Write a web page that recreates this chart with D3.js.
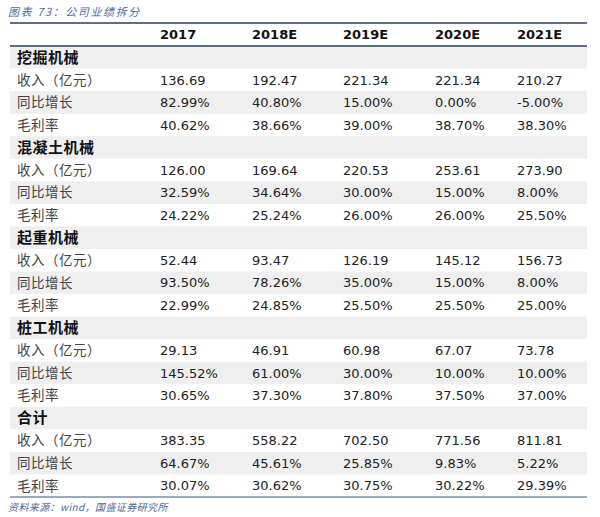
<!DOCTYPE html>
<html><head><meta charset="utf-8">
<script src="https://cdn.jsdelivr.net/npm/d3@7"></script>
<style>body{margin:0;background:#fff;} svg{display:block;}</style>
</head><body>
<script>
const years = ["2017","2018E","2019E","2020E","2021E"];
const groups = ["挖掘机械","混凝土机械","起重机械","桩工机械","合计"];
const metrics = ["收入（亿元）","同比增长","毛利率"];
const revenue = [
  ["136.69","192.47","221.34","221.34","210.27"],
  ["126.00","169.64","220.53","253.61","273.90"],
  ["52.44","93.47","126.19","145.12","156.73"],
  ["29.13","46.91","60.98","67.07","73.78"],
  ["383.35","558.22","702.50","771.56","811.81"]
];
const growth = [
  ["82.99%","40.80%","15.00%","0.00%","-5.00%"],
  ["32.59%","34.64%","30.00%","15.00%","8.00%"],
  ["93.50%","78.26%","35.00%","15.00%","8.00%"],
  ["145.52%","61.00%","30.00%","10.00%","10.00%"],
  ["64.67%","45.61%","25.85%","9.83%","5.22%"]
];
const margin = [
  ["40.62%","38.66%","39.00%","38.70%","38.30%"],
  ["24.22%","25.24%","26.00%","26.00%","25.50%"],
  ["22.99%","24.85%","25.50%","25.50%","25.00%"],
  ["30.65%","37.30%","37.80%","37.50%","37.00%"],
  ["30.07%","30.62%","30.75%","30.22%","29.39%"]
];
const titleText = "图表 73：公司业绩拆分";
const sourceText = "资料来源：wind，国盛证券研究所";

const rows = [];
groups.forEach((g,gi)=>{
  rows.push({type:"group", label:g, values:null});
  rows.push({type:"data", label:metrics[0], values:revenue[gi]});
  rows.push({type:"data", label:metrics[1], values:growth[gi]});
  rows.push({type:"data", label:metrics[2], values:margin[gi]});
});

const W=600,H=517;
const svg=d3.select("body").append("svg").attr("width",W).attr("height",H);
const tLeft=10,tRight=587,tTop=23,tHead=46,tBottom=497;

const y=d3.scaleBand().domain(d3.range(rows.length)).range([tHead,tBottom]).padding(0);
const x=d3.scaleOrdinal().domain(years).range([160,252,343,435,517]);
const labelX=17;

svg.append("text").attr("x",8).attr("y",16).text(titleText)
  .attr("font-family","'Noto Sans CJK SC',sans-serif").attr("font-size",11)
  .attr("letter-spacing",1.6)
  .attr("font-style","italic").attr("fill","#4b6a98");

svg.selectAll("rect.bg").data(rows).join("rect").attr("class","bg")
  .attr("x",tLeft).attr("width",tRight-tLeft)
  .attr("y",(d,i)=>y(i)).attr("height",y.bandwidth()+0.5)
  .attr("fill",(d,i)=>i%2===0?"#efefef":"#ffffff");

const lineColor="#5b6f88";
svg.append("line").attr("x1",tLeft).attr("x2",tRight).attr("y1",tTop).attr("y2",tTop).attr("stroke",lineColor).attr("stroke-width",2);
svg.append("line").attr("x1",tLeft).attr("x2",tRight).attr("y1",tHead).attr("y2",tHead).attr("stroke",lineColor).attr("stroke-width",2);
svg.append("line").attr("x1",tLeft).attr("x2",tRight).attr("y1",tBottom).attr("y2",tBottom).attr("stroke","#7d8ea3").attr("stroke-width",1.5);

svg.selectAll("text.hd").data(years).join("text").attr("class","hd")
  .attr("x",d=>x(d)).attr("y",(tTop+tHead)/2).attr("dy","0.36em")
  .attr("font-family","'DejaVu Sans',Verdana,sans-serif").attr("font-weight","bold")
  .attr("font-size",13).attr("fill","#111").text(d=>d);

svg.selectAll("text.lb").data(rows).join("text").attr("class","lb")
  .attr("x",labelX).attr("y",(d,i)=>y(i)+y.bandwidth()/2).attr("dy","0.36em")
  .attr("font-family","'Noto Sans CJK SC',sans-serif")
  .attr("font-weight",d=>d.type==="group"?"bold":"normal")
  .attr("font-size",d=>d.type==="group"?15:13.5)
  .attr("letter-spacing",d=>d.type==="group"?0.5:0.5)
  .attr("fill",d=>d.type==="group"?"#111":"#444")
  .text(d=>d.label);

const cells=[];
rows.forEach((r,i)=>{ if(r.values) r.values.forEach((v,j)=>cells.push({i,year:years[j],v})); });
svg.selectAll("text.cell").data(cells).join("text").attr("class","cell")
  .attr("x",d=>x(d.year)).attr("y",d=>y(d.i)+y.bandwidth()/2).attr("dy","0.36em")
  .attr("font-family","'DejaVu Sans',Verdana,sans-serif").attr("font-size",13)
  .attr("fill","#222").text(d=>d.v);

svg.append("text").attr("x",8).attr("y",511).text(sourceText)
  .attr("font-family","'Noto Sans CJK SC',sans-serif").attr("font-size",10)
  .attr("letter-spacing",0.4)
  .attr("font-style","italic").attr("fill","#4b6a98");
</script>
</body></html>
